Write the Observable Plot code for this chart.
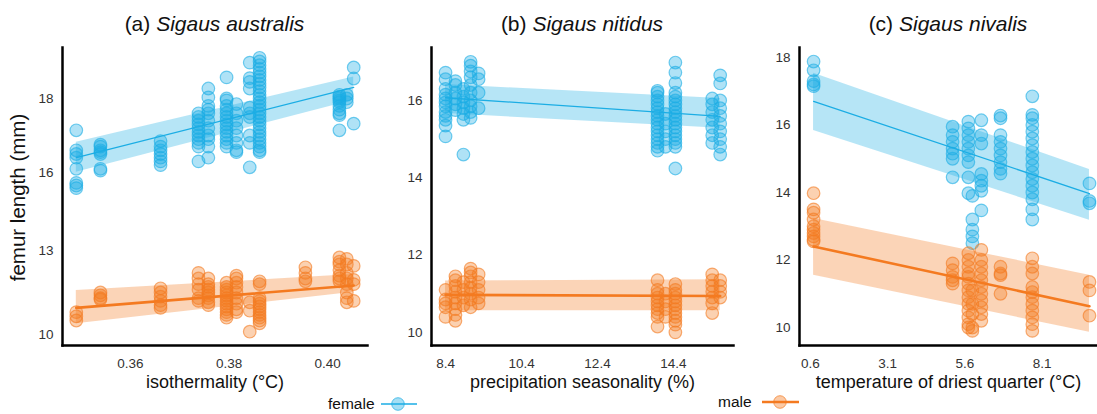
<!DOCTYPE html>
<html>
<head>
<meta charset="utf-8">
<script src="https://cdn.jsdelivr.net/npm/d3@7"></script>
<script src="https://cdn.jsdelivr.net/npm/@observablehq/plot@0.6"></script>
<style>
  html, body { margin: 0; padding: 0; background: #fff; }
  #wrap { position: relative; width: 1097px; height: 414px; overflow: hidden; font-family: "Liberation Sans", Arial, sans-serif; }
  #wrap > svg { position: absolute; }
</style>
</head>
<body>
<div id="wrap"></div>
<script>
// ---------------- data ----------------
const FEMALE = "#1BADE4";
const MALE = "#F47A20";

// (a) Sigaus australis — isothermality
const sitesA = [0.3490, 0.3539, 0.3661, 0.3738, 0.3758, 0.3795, 0.3815, 0.3842, 0.3862, 0.3955, 0.4024, 0.4039, 0.4053];
const femaleA = [
  [17.14, 16.6, 16.5, 16.4, 16.1, 15.6, 15.5, 15.4],
  [16.75, 16.7, 16.6, 16.55, 16.5, 16.1, 16.05],
  [16.85, 16.7, 16.6, 16.5, 16.4, 16.3, 16.2],
  [17.6, 17.5, 17.4, 17.3, 17.2, 17.1, 17.0, 16.9, 16.8, 16.7, 16.3],
  [18.27, 18.03, 17.8, 17.7, 17.6, 17.4, 17.2, 17.0, 16.9, 16.7, 16.4],
  [18.57, 18.0, 17.95, 17.8, 17.7, 17.6, 17.5, 17.4, 17.3, 17.2, 17.1, 17.0, 16.9, 16.8, 16.7],
  [17.85, 17.6, 17.4, 17.2, 17.0, 16.8, 16.6, 16.55],
  [18.97, 18.55, 18.45, 18.27, 17.75, 17.6, 17.5, 17.0, 16.8, 16.14],
  [19.1, 19.0, 18.9, 18.8, 18.7, 18.6, 18.5, 18.4, 18.3, 18.2, 18.1, 18.0, 17.9, 17.8, 17.7, 17.6, 17.5, 17.4, 17.3, 17.2, 17.1, 17.0, 16.9, 16.8, 16.7, 16.6, 16.55],
  [],
  [18.1, 18.05, 18.0, 17.95, 17.9, 17.8, 17.7, 17.6, 17.55, 17.14],
  [18.1, 18.0, 17.9],
  [18.84, 18.54, 17.32]
];
const maleA = [
  [10.8, 10.65, 10.5],
  [11.5, 11.4, 11.3, 11.25],
  [11.65, 11.5, 11.35, 11.2, 11.05, 10.95],
  [12.2, 12.0, 11.8, 11.6, 11.3, 11.2],
  [12.0, 11.8, 11.7, 11.6, 11.5, 11.4, 11.3, 11.15, 11.05],
  [11.85, 11.7, 11.6, 11.5, 11.4, 11.3, 11.2, 11.1, 11.0, 10.9, 10.8, 10.7, 10.6],
  [12.1, 12.0, 11.85, 11.7, 11.5, 11.3, 11.1, 10.9, 10.8],
  [11.15, 10.85, 10.1],
  [11.9, 11.8, 11.3, 11.2, 11.1, 11.0, 10.9, 10.8, 10.7, 10.6, 10.5, 10.4],
  [12.4, 12.2, 12.0, 11.9],
  [12.75, 12.6, 12.5, 12.3, 12.1, 12.0, 11.9],
  [12.7, 12.5, 12.2, 12.0, 11.8, 11.5, 11.3, 11.15],
  [12.45, 11.95, 11.8, 11.2]
];
const fitXA = [0.349, 0.4053];
const femFitA = [16.4, 18.3], femLoA = [16.01, 17.95], femHiA = [16.82, 18.58];
const malFitA = [10.95, 11.75], malLoA = [10.38, 11.51], malHiA = [11.57, 12.14];
const yTicksA = [10, 13, 16, 18];
const xTicksA = [0.36, 0.38, 0.40];
// panel (a) uses an uneven (piecewise) vertical axis: value breaks and their relative heights
const yBreaksA = [9.607, 10, 13, 16, 18, 19.378];
const yHeightsA = [0, 11, 95, 173, 247, 298];

// (b) Sigaus nitidus — precipitation seasonality
const sitesB = [8.40, 8.66, 8.87, 9.06, 9.27, 13.98, 14.19, 14.45, 15.42, 15.63];
const femaleB = [
  [16.72, 16.55, 16.3, 16.15, 16.05, 15.95, 15.85, 15.7, 15.6, 15.5, 15.35, 15.07],
  [16.5, 16.4, 16.2, 16.05, 15.9, 15.75],
  [16.3, 16.1, 15.95, 15.8, 15.65, 15.5, 14.6],
  [17.0, 16.9, 16.75, 16.6, 16.4, 16.2, 16.0, 15.85, 15.7, 15.55],
  [16.7, 16.55, 16.2, 15.8],
  [16.25, 16.2, 16.1, 16.0, 15.9, 15.8, 15.7, 15.6, 15.5, 15.4, 15.3, 15.2, 15.1, 15.0, 14.9, 14.8, 14.7],
  [15.65, 15.4, 15.2, 15.0, 14.8],
  [16.98, 16.72, 16.45, 16.2, 16.1, 16.0, 15.9, 15.8, 15.7, 15.6, 15.5, 15.4, 15.3, 15.2, 15.1, 15.0, 14.9, 14.8, 14.24],
  [16.05, 15.9, 15.7, 15.5, 15.3, 15.1, 14.9],
  [16.65, 16.44, 16.0, 15.8, 15.6, 15.4, 15.2, 15.0, 14.8, 14.6]
];
const maleB = [
  [11.1, 10.85, 10.75, 10.65, 10.4],
  [11.45, 11.35, 11.2, 11.05, 10.9, 10.75, 10.6, 10.45, 10.3],
  [11.3, 11.1, 10.9, 10.7],
  [11.65, 11.55, 11.45, 11.3, 11.15, 11.0, 10.85, 10.65],
  [11.5, 11.3, 11.1, 10.9, 10.75],
  [11.35, 11.1, 11.0, 10.9, 10.8, 10.7, 10.6, 10.5, 10.4, 10.15],
  [11.0, 10.8, 10.6, 10.4],
  [11.25, 11.1, 11.0, 10.9, 10.8, 10.7, 10.6, 10.5, 10.4, 10.3, 10.2, 10.0],
  [11.5, 11.35, 11.2, 11.05, 10.9, 10.75, 10.5],
  [11.35, 11.2, 11.05, 10.9]
];
const fitXB = [8.4, 15.63];
const femFitB = [16.07, 15.59], femLoB = [15.66, 15.28], femHiB = [16.41, 16.05];
const malFitB = [10.97, 10.94], malLoB = [10.56, 10.56], malHiB = [11.33, 11.36];
const yTicksB = [10, 12, 14, 16];
const xTicksB = [8.4, 10.4, 12.4, 14.4];

// (c) Sigaus nivalis — temperature of driest quarter
const sitesC = [0.70, 5.20, 5.71, 5.84, 6.13, 6.75, 7.78, 9.63];
const femaleC = [
  [17.88, 17.62, 17.3, 17.2, 17.15],
  [15.95, 15.7, 15.5, 15.3, 15.15, 15.0, 14.45],
  [16.1, 15.9, 15.7, 15.5, 15.3, 15.1, 14.9, 14.45, 13.98],
  [13.9, 13.2, 12.9, 12.7, 12.5],
  [16.14, 15.7, 15.45, 14.55, 14.35, 14.2, 14.05, 13.47],
  [16.28, 16.2, 15.7, 15.5, 15.3, 15.1, 14.9, 14.7, 14.56],
  [16.85, 16.3, 16.2, 16.0, 15.8, 15.6, 15.4, 15.2, 15.0, 14.8, 14.6, 14.4, 14.2, 14.0, 13.8, 13.5, 13.2],
  [14.27, 13.75, 13.68]
];
const maleC = [
  [13.98, 13.5, 13.4, 13.2, 13.0, 12.9, 12.8, 12.7, 12.6, 12.55],
  [11.9, 11.7, 11.5, 11.4, 11.3],
  [12.2, 12.0, 11.8, 11.6, 11.5, 11.3, 11.1, 10.9, 10.7, 10.5, 10.3, 10.1, 10.0],
  [11.1, 10.7, 10.4, 10.0, 9.9],
  [12.3, 12.0, 11.8, 11.6, 11.4, 11.2, 11.0, 10.8, 10.6, 10.4, 10.2],
  [11.8, 11.6, 11.55, 11.0],
  [12.05, 11.8, 11.6, 11.2, 11.05, 10.9, 10.7, 10.5, 10.3, 10.1, 9.9],
  [11.35, 11.1, 10.35]
];
const fitXC = [0.7, 9.63];
const femFitC = [16.7, 13.97], femLoC = [15.84, 13.18], femHiC = [17.53, 14.68];
const malFitC = [12.4, 10.63], malLoC = [11.55, 9.86], malHiC = [13.23, 11.55];
const yTicksC = [10, 12, 14, 16, 18];
const xTicksC = [0.6, 3.1, 5.6, 8.1];

// ---------------- drawing ----------------
const FONT = "'Liberation Sans', Arial, Helvetica, sans-serif";
const wrap = document.getElementById("wrap");

function flat(sites, groups, w) {
  const rows = [];
  sites.forEach((x, i) => groups[i].forEach(y => rows.push({x, y: w(y)})));
  return rows;
}
function fitRows(xs, fit, lo, hi, w) {
  return xs.map((x, i) => ({x, fit: w(fit[i]), lo: w(lo[i]), hi: w(hi[i])}));
}

function panel(o) {
  const w = o.warp || (v => v);
  const fRows = flat(o.sites, o.female, w), mRows = flat(o.sites, o.male, w);
  const fFit = fitRows(o.fitX, o.femFit, o.femLo, o.femHi, w);
  const mFit = fitRows(o.fitX, o.malFit, o.malLo, o.malHi, w);
  const yTickFmt = o.warp ? (v => d3.format("d")(Math.round(o.warp.invert(v)))) : d3.format("d");
  const marks = [
    Plot.areaY(fFit, {x: "x", y1: "lo", y2: "hi", fill: FEMALE, fillOpacity: 0.32}),
    Plot.areaY(mFit, {x: "x", y1: "lo", y2: "hi", fill: MALE, fillOpacity: 0.32}),
    Plot.dot(fRows, {x: "x", y: "y", r: 6.3, fill: FEMALE, fillOpacity: 0.35, stroke: FEMALE, strokeOpacity: 0.6, strokeWidth: 1.2}),
    Plot.dot(mRows, {x: "x", y: "y", r: 6.3, fill: MALE, fillOpacity: 0.35, stroke: MALE, strokeOpacity: 0.6, strokeWidth: 1.2}),
    Plot.line(fFit, {x: "x", y: "fit", stroke: FEMALE, strokeWidth: 1.3}),
    Plot.line(mFit, {x: "x", y: "fit", stroke: MALE, strokeWidth: 2.6}),
    Plot.frame({anchor: "left", stroke: "#000", strokeWidth: 2.5}),
    Plot.frame({anchor: "bottom", stroke: "#000", strokeWidth: 2.5}),
    Plot.axisX({ticks: o.xTicks, tickFormat: o.xFmt, tickSize: 0, tickPadding: 13, fontSize: 13.5, fill: "#333", label: null}),
    Plot.axisY({ticks: o.yTicks.map(w), tickFormat: yTickFmt, tickSize: 0, tickPadding: 9, fontSize: 13.5, fill: "#333", label: null}),
    Plot.text([o.xLabel], {frameAnchor: "bottom", dy: 37, fontSize: 18, fill: "#111", lineAnchor: "middle"})
  ];
  if (o.yLabel) marks.push(Plot.text([o.yLabel], {frameAnchor: "left", dx: -44, dy: 1, rotate: -90, textAnchor: "middle", fontSize: 20.5, fill: "#111", lineAnchor: "middle"}));
  const svg = Plot.plot({
    width: o.width, height: 390,
    marginLeft: o.marginLeft, marginRight: o.marginRight, marginTop: 47, marginBottom: 45,
    style: {fontFamily: FONT, background: "transparent", overflow: "visible"},
    x: {domain: o.xDomain},
    y: {domain: o.yDomain},
    marks
  });
  svg.style.left = o.left + "px";
  svg.style.top = "0px";
  // panel title with italic species name
  const cx = o.marginLeft + (o.width - o.marginLeft - o.marginRight) / 2;
  const t = d3.select(svg).append("text")
    .attr("x", cx).attr("y", 31).attr("text-anchor", "middle")
    .attr("font-size", 21).attr("font-family", FONT).attr("fill", "#111");
  t.append("tspan").text(o.tag + " ");
  t.append("tspan").attr("font-style", "italic").text(o.species);
  wrap.appendChild(svg);
}

const warpA = d3.scaleLinear().domain(yBreaksA).range(yHeightsA);

panel({
  left: 0, width: 370, marginLeft: 62, marginRight: 3,
  xDomain: [0.3462, 0.4081],
  yDomain: [yHeightsA[0], yHeightsA[yHeightsA.length - 1]], warp: warpA,
  xTicks: xTicksA, yTicks: yTicksA, xFmt: d3.format(".2f"),
  sites: sitesA, female: femaleA, male: maleA,
  fitX: fitXA, femFit: femFitA, femLo: femLoA, femHi: femHiA, malFit: malFitA, malLo: malLoA, malHi: malHiA,
  xLabel: "isothermality (°C)", yLabel: "femur length (mm)",
  tag: "(a)", species: "Sigaus australis"
});
panel({
  left: 370, width: 370, marginLeft: 61, marginRight: 7,
  xDomain: [8.03, 15.98],
  yDomain: [9.66, 17.37],
  xTicks: xTicksB, yTicks: yTicksB, xFmt: d3.format(".1f"),
  sites: sitesB, female: femaleB, male: maleB,
  fitX: fitXB, femFit: femFitB, femLo: femLoB, femHi: femHiB, malFit: malFitB, malLo: malLoB, malHi: malHiB,
  xLabel: "precipitation seasonality (%)", yLabel: null,
  tag: "(b)", species: "Sigaus nitidus"
});
panel({
  left: 740, width: 357, marginLeft: 59, marginRight: 0,
  xDomain: [0.244, 9.89],
  yDomain: [9.467, 18.296],
  xTicks: xTicksC, yTicks: yTicksC, xFmt: d3.format(".1f"),
  sites: sitesC, female: femaleC, male: maleC,
  fitX: fitXC, femFit: femFitC, femLo: femLoC, femHi: femHiC, malFit: malFitC, malLo: malLoC, malHi: malHiC,
  xLabel: "temperature of driest quarter (°C)", yLabel: null,
  tag: "(c)", species: "Sigaus nivalis"
});

// legend
const legendItems = [
  {label: "female", color: FEMALE, tx: 328, x1: 381, x2: 417, cx: 398, cy: 14, lw: 1.6},
  {label: "male", color: MALE, tx: 718, x1: 762, x2: 799, cx: 780, cy: 12, lw: 2.4}
];
const leg = d3.create("svg").attr("width", 1097).attr("height", 24)
  .style("position", "absolute").style("left", "0px").style("top", "390px");
for (const it of legendItems) {
  const g = leg.append("g");
  g.append("text").attr("x", it.tx).attr("y", it.cy).attr("dy", "0.35em")
    .attr("font-family", FONT).attr("font-size", 15.5).attr("fill", "#111").text(it.label);
  g.append("line").attr("x1", it.x1).attr("x2", it.x2).attr("y1", it.cy).attr("y2", it.cy)
    .attr("stroke", it.color).attr("stroke-width", it.lw);
  g.append("circle").attr("cx", it.cx).attr("cy", it.cy).attr("r", 6.3)
    .attr("fill", it.color).attr("fill-opacity", 0.4).attr("stroke", it.color).attr("stroke-opacity", 0.7);
}
wrap.appendChild(leg.node());
</script>
</body>
</html>
